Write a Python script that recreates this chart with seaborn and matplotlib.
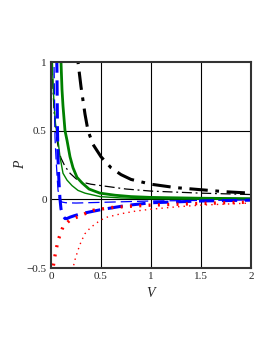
import pandas as pd
import matplotlib
matplotlib.use("Agg")
import matplotlib.pyplot as plt
import seaborn as sns

# curvas (V, P)
v_k1 = [0.25, 0.27, 0.3, 0.34, 0.37, 0.42, 0.5, 0.6, 0.7, 0.8, 1.0, 1.25, 1.5, 1.75, 2.0]
p_k1 = [1.2, 1.0, 0.82, 0.62, 0.5, 0.4, 0.31, 0.23, 0.18, 0.145, 0.11, 0.085, 0.07, 0.055, 0.045]

v_k2 = [0.005, 0.01, 0.02, 0.03, 0.045, 0.06, 0.08, 0.1, 0.14, 0.19, 0.25, 0.31, 0.4, 0.5, 0.75, 1.0, 1.5, 2.0]
p_k2 = [1.3, 1.0, 0.8, 0.65, 0.52, 0.43, 0.35, 0.3, 0.24, 0.19, 0.15, 0.125, 0.11, 0.10, 0.075, 0.06, 0.045, 0.035]

v_g1 = [0.09, 0.1, 0.11, 0.12, 0.14, 0.16, 0.19, 0.22, 0.26, 0.31, 0.38, 0.49, 0.64, 0.8, 1.0, 1.5, 2.0]
p_g1 = [1.2, 1.0, 0.8, 0.68, 0.5, 0.43, 0.31, 0.23, 0.16, 0.12, 0.075, 0.045, 0.03, 0.02, 0.014, 0.008, 0.005]

v_g2 = [0.005, 0.01, 0.02, 0.03, 0.045, 0.07, 0.09, 0.12, 0.16, 0.21, 0.27, 0.34, 0.49, 0.7, 1.0, 1.5, 2.0]
p_g2 = [1.5, 1.1, 0.85, 0.7, 0.55, 0.43, 0.31, 0.19, 0.14, 0.10, 0.065, 0.045, 0.02, 0.01, 0.005, 0.002, 0.001]

v_b1 = [0.055, 0.06, 0.065, 0.07, 0.08, 0.09, 0.1, 0.12, 0.14, 0.16, 0.19, 0.23, 0.3, 0.4, 0.5, 0.75, 1.0, 1.5, 2.0]
p_b1 = [1.2, 0.9, 0.5, 0.3, 0.12, 0.0, -0.07, -0.12, -0.14, -0.14, -0.13, -0.12, -0.105, -0.09, -0.075, -0.045, -0.025, -0.012, -0.006]

v_b2 = [0.025, 0.03, 0.035, 0.04, 0.05, 0.06, 0.07, 0.08, 0.09, 0.11, 0.15, 0.25, 0.5, 1.0, 1.5, 2.0]
p_b2 = [1.2, 1.0, 0.75, 0.45, 0.3, 0.18, 0.07, 0.02, -0.005, -0.02, -0.025, -0.027, -0.022, -0.012, -0.008, -0.005]

v_r1 = [0.015, 0.02, 0.04, 0.07, 0.12, 0.19, 0.29, 0.42, 0.6, 0.8, 1.0, 1.5, 2.0]
p_r1 = [-0.55, -0.5, -0.41, -0.3, -0.2, -0.15, -0.12, -0.08, -0.06, -0.05, -0.042, -0.03, -0.02]

v_r2 = [0.21, 0.22, 0.24, 0.27, 0.3, 0.34, 0.39, 0.44, 0.5, 0.56, 0.7, 0.85, 1.0, 1.25, 1.5, 2.0]
p_r2 = [-0.56, -0.5, -0.44, -0.37, -0.31, -0.25, -0.21, -0.18, -0.15, -0.13, -0.105, -0.085, -0.072, -0.055, -0.042, -0.027]

x_ticks = [0, 0.5, 1, 1.5, 2]
x_labels = ["0", "0.5", "1", "1.5", "2"]
y_ticks = [-0.5, 0, 0.5, 1]
y_labels = ["\u22120.5", "0", "0.5", "1"]

sns.set_style("white")
plt.rcParams["font.family"] = ["Liberation Serif", "DejaVu Serif"]

fig = plt.figure(figsize=(2.73, 3.53), dpi=100)
ax = fig.add_axes([51 / 273, 1 - 268 / 353, 200 / 273, 206 / 353])

# grade preta por baixo das curvas
for xv in [0.5, 1, 1.5]:
    ax.axvline(xv, color="black", lw=0.8, zorder=0)
for yv in [0, 0.5]:
    ax.axhline(yv, color="black", lw=0.8, zorder=0)

curvas = [
    (v_k1, p_k1, "black", 2.2, (0, (6, 2.5, 1.2, 2.5))),
    (v_k2, p_k2, "black", 0.9, (0, (8, 3, 1.5, 3))),
    (v_g1, p_g1, "#008000", 2.0, "-"),
    (v_g2, p_g2, "#008000", 1.0, "-"),
    (v_b1, p_b1, "#0000ff", 2.2, (0, (5, 2.5))),
    (v_b2, p_b2, "#0000ff", 0.9, (0, (9, 4))),
    (v_r1, p_r1, "#ff0000", 2.4, (0, (0.6, 2.2))),
    (v_r2, p_r2, "#ff0000", 1.0, (0, (1, 3))),
]
for v, p, cor, lw, ls in curvas:
    df = pd.DataFrame({"V": v, "P": p})
    sns.lineplot(data=df, x="V", y="P", sort=False, estimator=None,
                 color=cor, lw=lw, linestyle=ls, ax=ax)

ax.set_xlim(0, 2)
ax.set_ylim(-0.5, 1)
ax.set_xticks(x_ticks)
ax.set_xticklabels(x_labels, fontsize=8)
ax.set_yticks(y_ticks)
ax.set_yticklabels(y_labels, fontsize=8)
ax.tick_params(length=0, pad=3)
for s in ax.spines.values():
    s.set_color("#333333")
    s.set_linewidth(1.5)

ax.set_xlabel("V", fontsize=10, style="italic")
ax.set_ylabel("P", fontsize=10, style="italic")
ax.xaxis.set_label_coords(0.5, -0.09)
ax.yaxis.set_label_coords(-0.12, 0.5)

fig.savefig("out.png", dpi=100)
